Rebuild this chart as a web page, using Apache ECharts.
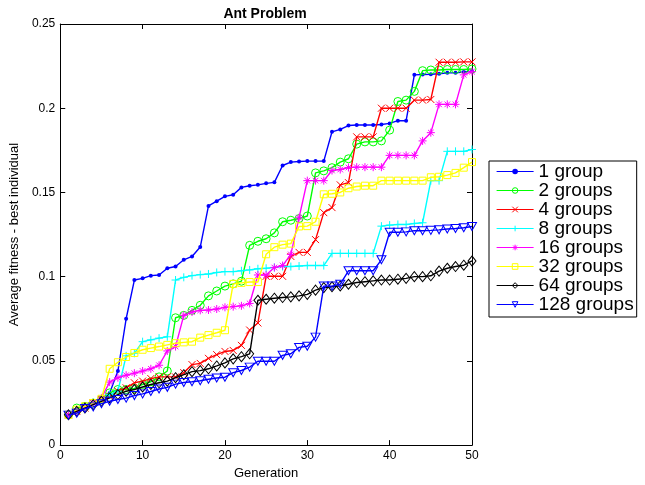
<!DOCTYPE html>
<html>
<head>
<meta charset="utf-8">
<script src="https://cdn.jsdelivr.net/npm/echarts@6/dist/echarts.min.js"></script>
<style>
html,body{margin:0;padding:0;background:#fff;}
#chart{width:645px;height:485px;}
</style>
</head>
<body>
<div id="chart"></div>
<script>
// ---- data ----
const generations = [1,2,3,4,5,6,7,8,9,10,11,12,13,14,15,16,17,18,19,20,21,22,23,24,25,
  26,27,28,29,30,31,32,33,34,35,36,37,38,39,40,41,42,43,44,45,46,47,48,49,50];
const seriesNames = ['1 group','2 groups','4 groups','8 groups','16 groups','32 groups','64 groups','128 groups'];
const xTicks = [0,10,20,30,40,50];
const yTicks = [0,0.05,0.1,0.15,0.2,0.25];

const group1 = [0.018,0.020,0.023,0.025,0.028,0.031,0.044,0.075,0.098,0.099,
  0.1006,0.101,0.105,0.106,0.110,0.112,0.1176,0.142,0.1448,0.1477,
  0.1486,0.153,0.154,0.1545,0.1554,0.156,0.166,0.168,0.1684,0.1686,
  0.1686,0.1686,0.186,0.1874,0.1897,0.190,0.190,0.190,0.1903,0.191,
  0.1926,0.1926,0.2198,0.220,0.2202,0.2205,0.221,0.221,0.2215,0.222];
const group2 = [0.018,0.022,0.023,0.025,0.027,0.031,0.033,0.033,0.0337,0.036,
  0.0376,0.0405,0.044,0.0756,0.077,0.080,0.083,0.0886,0.0915,0.0944,
  0.0957,0.0973,0.1186,0.121,0.1225,0.126,0.1326,0.1335,0.1345,0.136,
  0.1616,0.1628,0.1647,0.168,0.170,0.1787,0.180,0.180,0.1806,0.187,
  0.204,0.2048,0.210,0.2223,0.2227,0.2227,0.223,0.223,0.223,0.2233];
const group4 = [0.018,0.020,0.022,0.025,0.027,0.029,0.032,0.034,0.037,0.038,
  0.0395,0.0405,0.0405,0.0405,0.043,0.0478,0.0485,0.0515,0.0537,0.0556,
  0.0562,0.0592,0.0683,0.0725,0.1002,0.1002,0.1002,0.112,0.1144,0.1144,
  0.122,0.138,0.141,0.1545,0.1558,0.183,0.183,0.183,0.200,0.200,
  0.200,0.200,0.2048,0.2048,0.2052,0.2273,0.2273,0.2273,0.2275,0.2275];
const group8 = [0.018,0.020,0.022,0.025,0.027,0.030,0.032,0.053,0.0545,0.0614,
  0.0625,0.0635,0.0643,0.098,0.0996,0.1006,0.1012,0.1016,0.1025,0.103,
  0.103,0.1035,0.104,0.1047,0.105,0.1055,0.106,0.106,0.1063,0.1066,
  0.1066,0.1066,0.1138,0.1138,0.1138,0.1138,0.1138,0.1138,0.130,0.1306,
  0.131,0.131,0.1316,0.132,0.157,0.157,0.1744,0.1744,0.1744,0.1755];
const group16 = [0.018,0.020,0.022,0.025,0.028,0.0374,0.040,0.0415,0.0427,0.044,
  0.0453,0.0474,0.0559,0.0585,0.077,0.079,0.080,0.0802,0.0808,0.0818,
  0.0822,0.0827,0.0841,0.101,0.101,0.1054,0.1066,0.1132,0.135,0.157,
  0.157,0.157,0.163,0.1636,0.1648,0.165,0.165,0.165,0.165,0.172,
  0.172,0.172,0.172,0.1806,0.1855,0.2023,0.2023,0.2023,0.2198,0.2217];
const group32 = [0.018,0.021,0.023,0.025,0.0275,0.0453,0.0492,0.0523,0.0547,0.0566,
  0.0576,0.0585,0.0595,0.0605,0.061,0.0614,0.0638,0.0653,0.0667,0.0682,
  0.0957,0.0963,0.0968,0.0968,0.1133,0.1175,0.119,0.1196,0.1298,0.130,
  0.1326,0.1489,0.1492,0.150,0.1525,0.1535,0.154,0.154,0.157,0.157,
  0.157,0.157,0.157,0.157,0.159,0.1593,0.1603,0.1616,0.1647,0.168];
const group64 = [0.018,0.020,0.022,0.024,0.026,0.028,0.030,0.032,0.033,0.0345,
  0.036,0.037,0.038,0.040,0.0418,0.0436,0.0442,0.0453,0.047,0.0488,
  0.0512,0.0525,0.0542,0.086,0.0866,0.0872,0.0876,0.088,0.0886,0.0895,
  0.092,0.0935,0.094,0.0945,0.0955,0.0965,0.097,0.0975,0.098,0.098,
  0.0985,0.099,0.100,0.100,0.1005,0.1033,0.105,0.106,0.1068,0.1093];
const group128 = [0.0178,0.019,0.0217,0.0227,0.0246,0.026,0.0271,0.0279,0.0294,0.0304,
  0.0318,0.0333,0.0343,0.0362,0.0372,0.0376,0.0382,0.0391,0.0398,0.0403,
  0.043,0.0443,0.0463,0.0498,0.0498,0.0498,0.0533,0.0542,0.058,0.0587,
  0.0641,0.0944,0.0944,0.0955,0.1035,0.1035,0.1035,0.1035,0.110,0.1264,
  0.1264,0.1266,0.1273,0.1273,0.1275,0.1278,0.1283,0.1286,0.129,0.1298];

const allValues = [group1, group2, group4, group8, group16, group32, group64, group128];

// ---- styles ----
const colors = ['#0000ff','#00ff00','#ff0000','#00ffff','#ff00ff','#ffff00','#000000','#0000ff'];
const symbols = ['circle','circle','path://M0,0L10,10M10,0L0,10','path://M5,0L5,10M0,5L10,5',
  'path://M5,0L5,10M0,5L10,5M1.5,1.5L8.5,8.5M8.5,1.5L1.5,8.5','rect','diamond','triangle'];
const sizes = [4, 8, 7, 8, 8, 7, [8,10], [9,8]];
const filled = [true,false,false,false,false,false,false,false];
const rotates = [0,0,0,0,0,0,0,180];

const FONT = 'Liberation Sans';
const chart = echarts.init(document.getElementById('chart'), null, {renderer:'canvas'});

const series = allValues.map((vals, k) => ({
  name: seriesNames[k],
  type: 'line',
  data: vals.map((v, i) => [generations[i], v]),
  symbol: symbols[k],
  symbolSize: sizes[k],
  symbolRotate: rotates[k],
  showSymbol: true,
  showAllSymbol: true,
  lineStyle: {color: colors[k], width: 1.4},
  itemStyle: filled[k] ? {color: colors[k], borderWidth: 0}
                       : {color: 'transparent', borderColor: colors[k], borderWidth: 1},
  emphasis: {disabled: true},
  animation: false,
  z: 2 + k
}));

const axisCommon = {
  axisLine: {show: true, onZero: false, lineStyle: {color: '#000', width: 1}},
  axisTick: {show: true, inside: true, length: 5, lineStyle: {color: '#000', width: 1}},
  splitLine: {show: false}
};

const option = {
  backgroundColor: '#fff',
  animation: false,
  title: {
    text: 'Ant Problem',
    left: 265, top: 7, padding: 0,
    textAlign: 'center',
    textStyle: {fontFamily: FONT, fontSize: 14, fontWeight: 'bold', color: '#000'}
  },
  grid: {left: 57, right: 173, top: 24, bottom: 31, containLabel: false},
  xAxis: [
    Object.assign({
      type: 'value', min: xTicks[0], max: xTicks[xTicks.length-1], interval: 10, position: 'bottom',
      axisLabel: {color: '#000', fontFamily: FONT, fontSize: 12, margin: 5},
      name: 'Generation', nameLocation: 'middle', nameGap: 20,
      nameTextStyle: {color: '#000', fontFamily: FONT, fontSize: 13}
    }, axisCommon),
    Object.assign({
      type: 'value', min: xTicks[0], max: xTicks[xTicks.length-1], interval: 10, position: 'top',
      axisLabel: {show: false}
    }, axisCommon)
  ],
  yAxis: [
    Object.assign({
      type: 'value', min: yTicks[0], max: yTicks[yTicks.length-1], interval: 0.05, position: 'left',
      axisLabel: {color: '#000', fontFamily: FONT, fontSize: 12, margin: 5},
      name: 'Average fitness - best individual', nameLocation: 'middle', nameGap: 38,
      nameTextStyle: {color: '#000', fontFamily: FONT, fontSize: 13}
    }, axisCommon),
    Object.assign({
      type: 'value', min: yTicks[0], max: yTicks[yTicks.length-1], interval: 0.05, position: 'right',
      axisLabel: {show: false}
    }, axisCommon)
  ],
  legend: {
    data: seriesNames,
    orient: 'vertical',
    left: 489, top: 161,
    padding: [1, 3, 3, 7],
    itemGap: 0,
    itemWidth: 37,
    itemHeight: 7,
    borderColor: '#000', borderWidth: 1,
    backgroundColor: '#fff',
    selectedMode: false,
    itemStyle: {borderWidth: 1},
    lineStyle: {width: 1.2},
    textStyle: {fontFamily: FONT, fontSize: 19, color: '#000', lineHeight: 19, padding: [0,0,0,0]}
  },
  series: series
};
chart.setOption(option);
</script>
</body>
</html>
